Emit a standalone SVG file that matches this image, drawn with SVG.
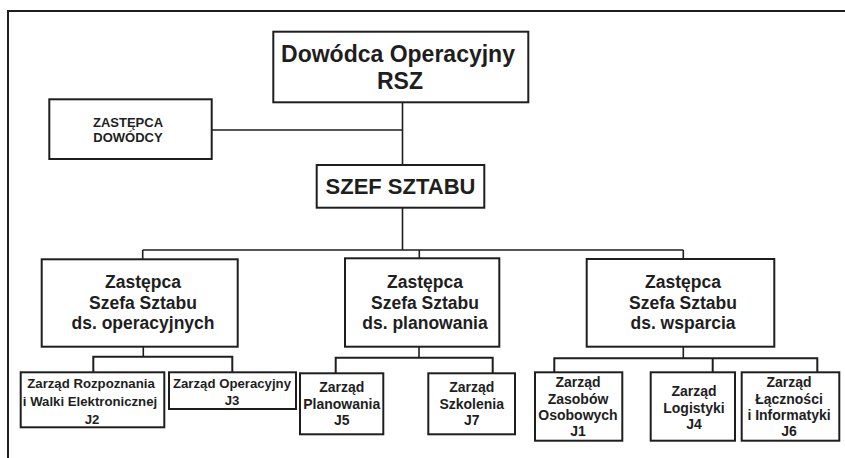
<svg xmlns="http://www.w3.org/2000/svg" width="845" height="458" viewBox="0 0 845 458">
<style>
.box{fill:#fff;stroke:#1e1e1e;stroke-width:2}
.t{font-family:"Liberation Sans",Arial,sans-serif;font-weight:bold;fill:#1e1e1e;text-anchor:middle}
.conn{fill:none;stroke:#1e1e1e;stroke-width:1.6}
.bus{fill:none;stroke:#1e1e1e;stroke-width:2}
</style>
<rect width="845" height="458" fill="#fff"/>
<path d="M8,458 V11 H845" fill="none" stroke="#1e1e1e" stroke-width="2"/>
<g id="connectors">
<path class="conn" d="M402.5,102 V165 M211.5,130 H402.5"/>
<path class="conn" d="M402.5,208 V250 M142.7,250 H683.3 M142.7,250 V259 M419.3,250 V258.5 M683.3,250 V259"/>
<path class="conn" d="M143.3,347 V356.7 M419,347 V357.7 M683.3,347 V358.3"/>
<path class="bus" d="M93.3,372 V356.7 H232.3 V372"/>
<path class="bus" d="M335.7,373.3 V357.7 H492.7 V373.3"/>
<path class="bus" d="M554.3,372.3 V358.3 H817.3 V372.3 M712.7,358.3 V372.3"/>
</g>
<g id="dowodca">
<rect class="box" x="273.3" y="31.7" width="255" height="70.6"/>
<text class="t" x="398" y="62" font-size="23">Dowódca Operacyjny</text>
<text class="t" x="400" y="89" font-size="23">RSZ</text>
</g>
<g id="zastepca-dowodcy">
<rect class="box" x="49.3" y="99.3" width="162.4" height="59.7"/>
<text class="t" x="128" y="127" font-size="13">ZASTĘPCA</text>
<text class="t" x="128" y="142" font-size="13">DOWÓDCY</text>
</g>
<g id="szef-sztabu">
<rect class="box" x="316.7" y="165" width="167.6" height="42.7"/>
<text class="t" x="400.5" y="194" font-size="22">SZEF SZTABU</text>
</g>
<g id="zss-operacyjnych">
<rect class="box" x="41.7" y="259.3" width="196" height="87.4"/>
<text class="t" x="143" y="288.3" font-size="17.5">Zastępca</text>
<text class="t" x="143" y="308.5" font-size="17.5">Szefa Sztabu</text>
<text class="t" x="143" y="328.5" font-size="17.5">ds. operacyjnych</text>
</g>
<g id="zss-planowania">
<rect class="box" x="345" y="258.3" width="154.3" height="88.4"/>
<text class="t" x="425" y="288.3" font-size="17.5">Zastępca</text>
<text class="t" x="425" y="308.5" font-size="17.5">Szefa Sztabu</text>
<text class="t" x="425" y="328.5" font-size="17.5">ds. planowania</text>
</g>
<g id="zss-wsparcia">
<rect class="box" x="586.7" y="259" width="187.6" height="87.7"/>
<text class="t" x="683" y="288.3" font-size="17.5">Zastępca</text>
<text class="t" x="683" y="308.5" font-size="17.5">Szefa Sztabu</text>
<text class="t" x="683" y="328.5" font-size="17.5">ds. wsparcia</text>
</g>
<g id="j2">
<rect class="box" x="20.7" y="372.3" width="143.6" height="55"/>
<text class="t" x="91" y="388" font-size="13.2">Zarząd Rozpoznania</text>
<text class="t" x="90" y="405.5" font-size="13.2">i Walki Elektronicznej</text>
<text class="t" x="92" y="423.5" font-size="13.2">J2</text>
</g>
<g id="j3">
<rect class="box" x="169" y="372.3" width="127" height="36.7"/>
<text class="t" x="232" y="388" font-size="13.2">Zarząd Operacyjny</text>
<text class="t" x="232" y="404.5" font-size="13.2">J3</text>
</g>
<g id="j5">
<rect class="box" x="300" y="373.3" width="83.3" height="61"/>
<text class="t" x="341.7" y="392" font-size="14">Zarząd</text>
<text class="t" x="341.7" y="408.7" font-size="14">Planowania</text>
<text class="t" x="341.7" y="425.4" font-size="14">J5</text>
</g>
<g id="j7">
<rect class="box" x="428.3" y="373.3" width="86.7" height="61"/>
<text class="t" x="471.7" y="392" font-size="14">Zarząd</text>
<text class="t" x="471.7" y="408.7" font-size="14">Szkolenia</text>
<text class="t" x="471.7" y="425.4" font-size="14">J7</text>
</g>
<g id="j1">
<rect class="box" x="535" y="372.3" width="87.3" height="68.4"/>
<text class="t" x="578" y="387" font-size="14">Zarząd</text>
<text class="t" x="578" y="403.7" font-size="14">Zasobów</text>
<text class="t" x="578" y="420.4" font-size="14">Osobowych</text>
<text class="t" x="578" y="436" font-size="14">J1</text>
</g>
<g id="j4">
<rect class="box" x="650.7" y="372.3" width="84.3" height="68.4"/>
<text class="t" x="694" y="396.4" font-size="14">Zarząd</text>
<text class="t" x="694" y="413" font-size="14">Logistyki</text>
<text class="t" x="694" y="428.5" font-size="14">J4</text>
</g>
<g id="j6">
<rect class="box" x="741.7" y="372.3" width="97.6" height="68.4"/>
<text class="t" x="789" y="387" font-size="14">Zarząd</text>
<text class="t" x="789" y="403.7" font-size="14">Łączności</text>
<text class="t" x="789" y="420.4" font-size="14">i Informatyki</text>
<text class="t" x="789" y="436" font-size="14">J6</text>
</g>
</svg>
